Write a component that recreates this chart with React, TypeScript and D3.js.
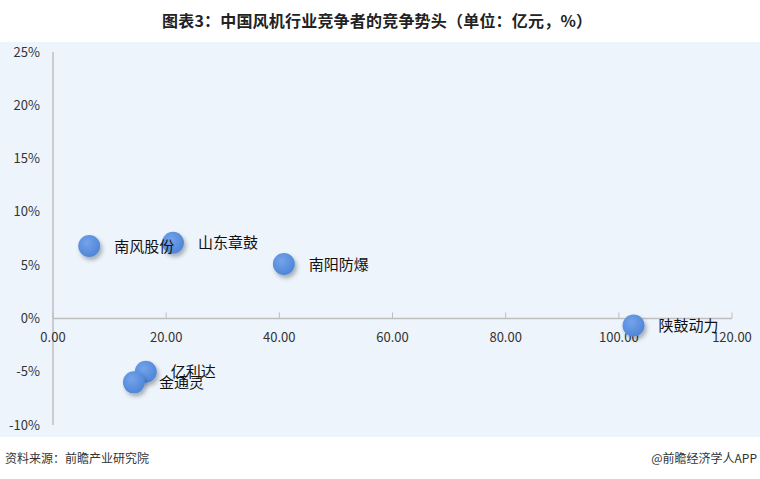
import React from "react";
import * as d3 from "d3";

const companies = ["南风股份", "山东章鼓", "南阳防爆", "陕鼓动力", "亿利达", "金通灵"];
const revenue = [6.4, 21.2, 40.8, 102.6, 16.4, 14.3];
const growth = [6.8, 7.1, 5.1, -0.66, -5.0, -6.0];
const xTicks = [0, 20, 40, 60, 80, 100, 120];
const yTicks = [-10, -5, 0, 5, 10, 15, 20, 25];

const W = 760;
const H = 479;

export default function App() {
  const x = d3.scaleLinear().domain([0, 120]).range([53, 732]);
  const y = d3.scaleLinear().domain([-10, 25]).range([425, 52]);
  const font = "'Noto Sans CJK SC', 'Noto Sans', sans-serif";
  const y0 = y(0);
  return (
    <svg width={W} height={H} style={{ position: "absolute", left: 0, top: 0 }} fontFamily={font}>
      <defs>
        <radialGradient id="bub" cx="40%" cy="35%" r="65%">
          <stop offset="0%" stopColor="#74a3ea" />
          <stop offset="100%" stopColor="#4f86d8" />
        </radialGradient>
        <filter id="sh" x="-50%" y="-50%" width="200%" height="200%">
          <feDropShadow dx="2" dy="3" stdDeviation="2" floodColor="#000" floodOpacity="0.3" />
        </filter>
      </defs>
      <rect x={0} y={0} width={W} height={H} fill="#ffffff" />
      <rect x={0} y={42} width={W} height={395} fill="#edf4fc" />
      <text x={162} y={27} fontSize={16} fontWeight="bold" fill="#222" textLength={430} lengthAdjust="spacing">
        图表3：中国风机行业竞争者的竞争势头（单位：亿元，%）
      </text>
      {/* y axis */}
      <line x1={53} x2={53} y1={y(25)} y2={y(-10)} stroke="#bfbfbf" strokeWidth={1.5} />
      {yTicks.map((t) => (
        <text key={t} x={40} y={y(t)} dy="0.35em" textAnchor="end" fontSize={13} fill="#333">
          {t}%
        </text>
      ))}
      {/* x axis */}
      <line x1={x(0)} x2={x(120)} y1={y0} y2={y0} stroke="#bfbfbf" strokeWidth={1.5} />
      {xTicks.map((t) => (
        <g key={t}>
          <line x1={x(t)} x2={x(t)} y1={y0} y2={y0 - 6} stroke="#bfbfbf" strokeWidth={1} />
          <text x={x(t)} y={y0 + 24} textAnchor="middle" fontSize={13} fill="#333">
            {t.toFixed(2)}
          </text>
        </g>
      ))}
      {companies.map((c, i) => (
        <circle key={c} cx={x(revenue[i])} cy={y(growth[i])} r={11} fill="url(#bub)" filter="url(#sh)" />
      ))}
      {companies.map((c, i) => (
        <text key={c} x={x(revenue[i]) + 25} y={y(growth[i])} dy="0.38em" fontSize={15} fill="#111">
          {c}
        </text>
      ))}
      <text x={5} y={463} fontSize={12} fill="#333">资料来源：前瞻产业研究院</text>
      <text x={757} y={463} textAnchor="end" fontSize={12} fill="#333">@前瞻经济学人APP</text>
    </svg>
  );
}
